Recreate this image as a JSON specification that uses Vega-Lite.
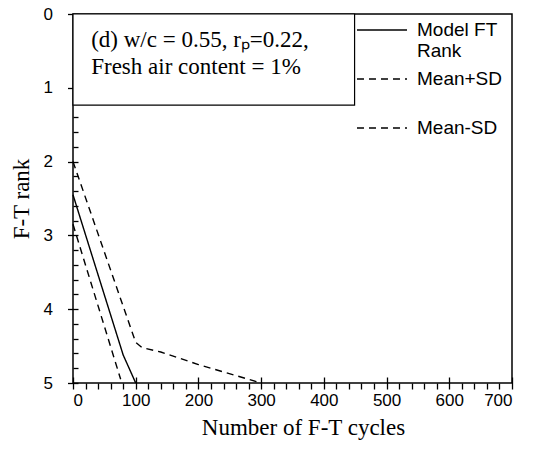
{
  "$schema": "https://vega.github.io/schema/vega-lite/v6.json",
  "width": 439,
  "height": 369,
  "autosize": {"type": "none"},
  "padding": {"left": 73, "top": 14, "right": 23, "bottom": 79},
  "background": "white",
  "config": {
    "view": {"stroke": "black", "strokeWidth": 1.5},
    "axis": {
      "grid": false,
      "domain": false,
      "tickColor": "black",
      "labelColor": "black",
      "titleColor": "black",
      "labelFont": "Liberation Sans",
      "labelFontSize": 17,
      "labelOverlap": false,
      "labelBound": false,
      "titleFont": "Liberation Serif",
      "titleFontSize": 23,
      "titleFontWeight": "normal",
      "tickWidth": 1.3
    },
    "legend": {
      "orient": "none",
      "legendX": 291,
      "legendY": -2,
      "symbolType": "M-1.45,0H1.45",
      "symbolSize": 1190,
      "symbolStrokeWidth": 1.4,
      "symbolStrokeColor": "black",
      "symbolFillColor": "transparent",
      "labelFont": "Liberation Sans",
      "labelFontSize": 19,
      "labelColor": "black",
      "labelOffset": 17,
      "rowPadding": 0,
      "padding": 0,
      "labelLimit": 300
    }
  },
  "data": {
    "values": [
      {"series": "Model FT Rank", "cycles": 0, "rank": 2.45},
      {"series": "Model FT Rank", "cycles": 80, "rank": 4.62},
      {"series": "Model FT Rank", "cycles": 100, "rank": 5.0},
      {"series": "Mean+SD", "cycles": 0, "rank": 2.0},
      {"series": "Mean+SD", "cycles": 100, "rank": 4.45},
      {"series": "Mean+SD", "cycles": 110, "rank": 4.52},
      {"series": "Mean+SD", "cycles": 140, "rank": 4.58},
      {"series": "Mean+SD", "cycles": 200, "rank": 4.75},
      {"series": "Mean+SD", "cycles": 300, "rank": 5.0},
      {"series": "Mean-SD", "cycles": 0, "rank": 2.85},
      {"series": "Mean-SD", "cycles": 76, "rank": 4.95}
    ]
  },
  "layer": [
    {
      "data": {"values": [{"note": "box"}]},
      "mark": {"type": "rect", "fill": "white", "stroke": "black", "strokeWidth": 1.2},
      "encoding": {
        "x": {"datum": 0, "type": "quantitative", "scale": {"domain": [0, 700], "nice": false}},
        "x2": {"datum": 449},
        "y": {"datum": 0, "type": "quantitative", "scale": {"domain": [0, 5], "nice": false, "reverse": true}},
        "y2": {"datum": 1.235}
      }
    },
    {
      "mark": {"type": "line", "color": "black", "strokeWidth": 1.4},
      "encoding": {
        "x": {"field": "cycles", "type": "quantitative",
          "axis": {"orient": "bottom", "offset": -6, "tickCount": 100,
            "values": [0,20,40,60,80,100,120,140,160,180,200,220,240,260,280,300,320,340,360,380,400,420,440,460,480,500,520,540,560,580,600,620,640,660,680,700],
            "labelExpr": "datum.value % 100 == 0 ? format(datum.value, 'd') : ''",
            "tickSize": 12,
            "tickDash": {"condition": {"test": "datum.value % 100 != 0", "value": [0, 6, 6]}, "value": [20, 0]},
            "labelPadding": 3,
            "title": "Number of F-T cycles", "titlePadding": 8, "titleX": 230}},
        "y": {"field": "rank", "type": "quantitative",
          "axis": {"orient": "left", "offset": -5, "tickCount": 100,
            "values": [0,0.2,0.4,0.6,0.8,1,1.2,1.4,1.6,1.8,2,2.2,2.4,2.6,2.8,3,3.2,3.4,3.6,3.8,4,4.2,4.4,4.6,4.8,5],
            "labelExpr": "datum.value % 1 == 0 ? format(datum.value, 'd') : ''",
            "tickSize": 10.5,
            "tickDash": {"condition": {"test": "datum.value % 1 != 0", "value": [5, 20]}, "value": [20, 0]},
            "labelPadding": 15,
            "title": "F-T rank", "titlePadding": 10}},
        "strokeDash": {"field": "series", "type": "nominal",
          "scale": {"domain": ["Model FT Rank", "Mean+SD", "Mean-SD"], "range": [[1, 0], [7, 5], [7, 5]]},
          "legend": {"title": null, "labelExpr": "datum.label == 'Model FT Rank' ? ['Model FT', 'Rank'] : datum.label == 'Mean+SD' ? ['Mean+SD', ''] : datum.label"}}
      }
    },
    {
      "data": {"values": [{"line": "(d) w/c = 0.55, rₚ=0.22,"}]},
      "mark": {"type": "text", "font": "Liberation Serif", "fontSize": 23, "fontWeight": "normal", "align": "left", "baseline": "alphabetic", "color": "black"},
      "encoding": {
        "x": {"datum": 29},
        "y": {"datum": 0.444},
        "text": {"field": "line"}
      }
    },
    {
      "data": {"values": [{"line": "Fresh air content = 1%"}]},
      "mark": {"type": "text", "font": "Liberation Serif", "fontSize": 23, "fontWeight": "normal", "align": "left", "baseline": "alphabetic", "color": "black"},
      "encoding": {
        "x": {"datum": 29},
        "y": {"datum": 0.814},
        "text": {"field": "line"}
      }
    }
  ]
}
